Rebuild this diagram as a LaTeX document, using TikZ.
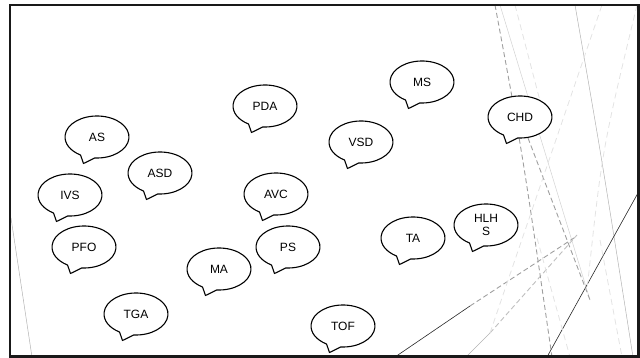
\documentclass[tikz,border=0pt]{standalone}
\usepackage{fontspec}
\setmainfont{Liberation Sans}
\begin{document}
\begin{tikzpicture}[x=1pt,y=-1pt,
  bubbleline/.style={draw=black, line width=1.1pt, fill=white, line join=round},
  bubbletext/.style={inner sep=0pt, font=\fontsize{12}{13.5}\selectfont, align=center},
  deco/.style={line width=0.5pt, draw=gray!60},
  decoblack/.style={line width=0.6pt, draw=black!85},
  decodash/.style={line width=0.9pt, draw=gray!75, dash pattern=on 5pt off 3pt},
  decofaint/.style={line width=0.8pt, draw=gray!22, dash pattern=on 6pt off 4pt},
]
% speech bubble: ellipse with a short tail to the lower left, text node named #1
\newcommand\speech[3]{%
  \begin{scope}[shift={#2}, x=1pt, y=1pt]
    \path[bubbleline] (266:32 and 21)
      arc[start angle=266, end angle=599, x radius=32, y radius=21]
      -- (-13.5,-26.5) -- cycle;
  \end{scope}
  \node[bubbletext] (#1) at #2 {#3};
}
\useasboundingbox (0,0) rectangle (640,358);

% decorative strokes, kept inside the frame
\begin{scope}
  \clip (9.8,5) rectangle (638.5,356.5);
  \draw[deco] (11,218) -- (32,357);
  \draw[deco] (575,5) .. controls (602,160) .. (633,357);
  \draw[deco, draw=gray!35] (500,5) -- (590,300);
  \draw[decoblack] (395,357) -- (470,306);
  \draw[decodash] (470,306) -- (577,236);
  \draw[decoblack] (547,357) -- (613,238) -- (638,193);
  \draw[deco] (466,357) -- (490,333);
  \draw[decodash, draw=gray!50] (490,333) -- (577,235);
  \draw[decodash] (495,5) .. controls (522,150) .. (552,357);
  \draw[decodash] (528,138) -- (590,300);
  \draw[decofaint] (490,333) -- (602,5);
  \draw[decofaint] (637,5) .. controls (602,150) .. (587,290);
  \draw[decofaint] (537,238) -- (570,357);
  \draw[decofaint] (600,240) -- (622,357);
  \draw[decofaint] (515,5) -- (545,120);
\end{scope}

% slide frame
\draw[line width=2.5pt, draw=black!90] (9.8,5) rectangle (638.5,356.5);

% speech bubbles
\speech{as}{(97,137)}{AS}
\speech{asd}{(160,173)}{ASD}
\speech{ivs}{(70,195)}{IVS}
\speech{pfo}{(84,247)}{PFO}
\speech{tga}{(136,314)}{TGA}
\speech{ma}{(219,269)}{MA}
\speech{ps}{(288,247)}{PS}
\speech{avc}{(276,194)}{AVC}
\speech{pda}{(265,106)}{PDA}
\speech{vsd}{(361,142)}{VSD}
\speech{ms}{(422,82)}{MS}
\speech{chd}{(520,117)}{CHD}
\speech{ta}{(413,238)}{TA}
\speech{hlhs}{(486,225)}{HLH\\S}
\speech{tof}{(343,326)}{TOF}
\end{tikzpicture}
\end{document}
